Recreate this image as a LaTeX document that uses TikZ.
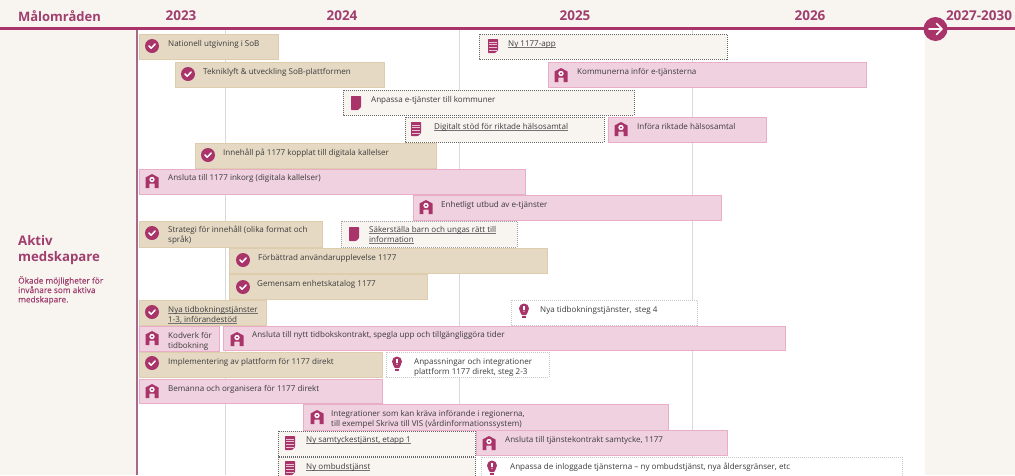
\documentclass[tikz,border=0pt]{standalone}
\usepackage{fontspec}
\setmainfont{Open Sans}
\newfontfamily\semifont[FakeBold=0.3]{Open Sans}
\definecolor{cream}{HTML}{F8F5F1}
\definecolor{maroon}{HTML}{A8346A}
\definecolor{headtxt}{HTML}{A03F6E}
\definecolor{tanfill}{HTML}{E5D9C3}
\definecolor{tanedge}{HTML}{DECDAC}
\definecolor{pinkfill}{HTML}{F0D1DF}
\definecolor{pinkedge}{HTML}{E9ADC8}
\definecolor{bodytxt}{HTML}{3C3C3C}
\definecolor{gridc}{HTML}{D9D9D9}
\definecolor{axisc}{HTML}{A7688A}
\newcommand{\ulin}[1]{\setbox0\hbox{#1}\rlap{\color{black!55}\rule[-1.2pt]{\wd0}{0.45pt}}\box0}
\tikzset{
  tanbar/.style={fill=tanfill,draw=tanedge,line width=1pt},
  pinkbar/.style={fill=pinkfill,draw=pinkedge,line width=1pt},
  plannedbar/.style={fill=cream,draw=black!60,line width=0.9pt,dash pattern=on 1pt off 1pt},
  ideabar/.style={fill=white,draw=black!22,line width=0.9pt,dash pattern=on 1pt off 1pt},
  softbar/.style={fill=cream,draw=black!38,line width=0.9pt,dash pattern=on 1pt off 1pt},
  bartext/.style={anchor=north west,inner sep=0pt,align=left,text=bodytxt,yshift=-0.5pt,font=\fontsize{8.05}{10.4}\selectfont},
  yearlabel/.style={font=\fontsize{13.5}{15}\selectfont\bfseries,text=headtxt,inner sep=0pt},
  chk/.pic={\fill[maroon] (0,0) circle (7pt);
    \draw[white,line width=1.5pt,line cap=round,line join=round] (-3,0) -- (-0.8,2.2) -- (3.2,-2);},
  bld/.pic={\fill[maroon] (-6.5,7) -- (-6.5,-3.5) -- (0,-7) -- (6.5,-3.5) -- (6.5,7) -- (2.6,7) -- (2.6,2.5) -- (-2.6,2.5) -- (-2.6,7) -- cycle;
    \fill[white] (0,-1.5) circle (2.7pt); \fill[maroon] (0,-1.5) circle (1.1pt);},
  sheet/.pic={\fill[maroon,rounded corners=0.6pt] (-5,-7) -- (5,-7) -- (5,4) -- (2,7) -- (-5,7) -- cycle;},
  sheetlines/.pic={\fill[maroon,rounded corners=0.6pt] (-5,-7) -- (5,-7) -- (5,4) -- (2,7) -- (-5,7) -- cycle;
    \foreach \yy in {-4.2,-1.4,1.4,4.2}{\draw[white!70!maroon,line width=0.45pt] (-4,\yy) -- (4,\yy);}},
  bulb/.pic={\fill[maroon] (-5,-2.5) arc[start angle=180,end angle=0,radius=5pt] .. controls (5,1) and (2.4,2) .. (2.2,4) -- (-2.2,4) .. controls (-2.4,2) and (-5,1) .. (-5,-2.5) -- cycle;
    \fill[maroon] (-1.8,5) rectangle (1.8,7);
    \draw[white,line width=1.1pt] (0,-5) -- (0,-1.5); \fill[white] (0,0.2) circle (0.7pt);}
}
\newcommand{\taskbar}[9]{%
  \draw[#2] #3 rectangle #4;
  \pic at #5 {#6};
  \node[bartext] (#1) at #7 {\strut #8};
}
\begin{document}
\begin{tikzpicture}[x=1pt,y=-1pt]
\useasboundingbox (0,0) rectangle (1015,475);
\clip (0,0) rectangle (1015,475);
\fill[white] (0,0) rectangle (1015,475);
\fill[cream] (0,0) rectangle (1015,28);
\fill[cream] (0,28) rectangle (137,475);
\fill[cream] (925,28) rectangle (1015,475);
% grid
\foreach \gx in {225,459,692}{\draw[gridc,line width=1pt] (\gx,30) -- (\gx,475);}
\fill[axisc] (136.4,28) rectangle (138.1,475);
% header
\draw[maroon,line width=2.8pt] (0,28.5) -- (1015,28.5);
\node[font=\fontsize{13}{15}\selectfont\bfseries,text=headtxt,inner sep=0pt] (goal) at (59.5,16) {Målområden};
\node[yearlabel] (y23) at (181,16) {2023};
\node[yearlabel] (y24) at (342,16) {2024};
\node[yearlabel] (y25) at (575,16) {2025};
\node[yearlabel] (y26) at (810,16) {2026};
\node[yearlabel] (y27) at (979,16) {2027-2030};
\fill[maroon] (935.5,29) circle (12pt);
\draw[white,line width=1.7pt,line cap=round,line join=round] (929,29) -- (942,29) (936.5,23.5) -- (942,29) -- (936.5,34.5);
% left label
\node[anchor=north west,inner sep=0pt,align=left,text=headtxt,font=\fontsize{13.2}{16}\selectfont\bfseries] (area) at (18,235) {Aktiv\\medskapare};
\node[anchor=north west,inner sep=0pt,align=left,text=headtxt,font=\fontsize{8.3}{9.4}\selectfont\semifont] (areadesc) at (18,276) {Ökade möjligheter för\\invånare som aktiva\\medskapare.};
% bars
\taskbar{a1}{tanbar}{(139,34)}{(278,59)}{(152,46)}{chk}{(168,38.3)}{Nationell utgivning i SoB}{}
\taskbar{a2}{plannedbar}{(479,34)}{(727,59)}{(493,46)}{sheetlines}{(508,38.3)}{\ulin{Ny 1177-app}}{}
\taskbar{a3}{tanbar}{(175,62)}{(384,87)}{(188,74)}{chk}{(203,66.3)}{Tekniklyft \& utveckling SoB-plattformen}{}
\taskbar{a4}{pinkbar}{(548,62)}{(866,87)}{(561,75)}{bld}{(577,66.3)}{Kommunerna inför e-tjänsterna}{}
\taskbar{a5}{plannedbar}{(343,90)}{(634,115)}{(356,103)}{sheet}{(371,94.3)}{Anpassa e-tjänster till kommuner}{}
\taskbar{a6}{plannedbar}{(405,117)}{(604,142)}{(416,129)}{sheetlines}{(434,121.3)}{\ulin{Digitalt stöd för riktade hälsosamtal}}{}
\taskbar{a7}{pinkbar}{(608,117)}{(766,142)}{(621,129)}{bld}{(637,121.3)}{Införa riktade hälsosamtal}{}
\taskbar{a8}{tanbar}{(195,143)}{(436,168)}{(208,155)}{chk}{(223,147.3)}{Innehåll på 1177 kopplat till digitala kallelser}{}
\taskbar{a9}{pinkbar}{(139,169)}{(525,194)}{(152,181)}{bld}{(168,172.3)}{Ansluta till 1177 inkorg (digitala kallelser)}{}
\taskbar{a10}{pinkbar}{(413,195)}{(721,220)}{(426,207)}{bld}{(441,199.3)}{Enhetligt utbud av e-tjänster}{}
\taskbar{a11}{tanbar}{(139,221)}{(322,247)}{(152,233)}{chk}{(168,224.3)}{Strategi för innehåll (olika format och\\språk)}{}
\taskbar{a12}{softbar}{(341,221)}{(517,247)}{(354,234)}{sheet}{(369,224.3)}{\ulin{Säkerställa barn och ungas rätt till}\\\ulin{information}}{}
\taskbar{a13}{tanbar}{(229,248)}{(547,273)}{(243,260)}{chk}{(258,252.3)}{Förbättrad användarupplevelse 1177}{}
\taskbar{a14}{tanbar}{(229,274)}{(427,299)}{(243,287)}{chk}{(257,278.3)}{Gemensam enhetskatalog 1177}{}
\taskbar{a15}{tanbar}{(139,300)}{(266,325)}{(152,312)}{chk}{(168,304.3)}{\ulin{Nya tidbokningstjänster}\\\ulin{1-3, införandestöd}}{}
\taskbar{a16}{ideabar}{(511,300)}{(697,325)}{(524,311)}{bulb}{(540,304.3)}{Nya tidbokningstjänster,\, steg 4}{}
\taskbar{a17}{pinkbar}{(139,326)}{(219,351)}{(152,338)}{bld}{(168,330.3)}{Kodverk för\\tidbokning}{}
\taskbar{a18}{pinkbar}{(223,326)}{(785,350)}{(237,339)}{bld}{(252,329.3)}{Ansluta till nytt tidbokskontrakt, spegla upp och tillgängliggöra tider}{}
\taskbar{a19}{tanbar}{(139,352)}{(382,377)}{(152,363)}{chk}{(168,356.3)}{Implementering av plattform för 1177 direkt}{}
\taskbar{a20}{ideabar}{(386,352)}{(549,377)}{(397,364)}{bulb}{(414,356.3)}{Anpassningar och integrationer\\plattform 1177 direkt, steg 2-3}{}
\taskbar{a21}{pinkbar}{(139,379)}{(382,403)}{(152,391)}{bld}{(168,383.3)}{Bemanna och organisera för 1177 direkt}{}
\taskbar{a22}{pinkbar}{(303,404)}{(668,430)}{(317,417)}{bld}{(331,408.3)}{Integrationer som kan kräva införande i regionerna,\\till exempel Skriva till VIS (vårdinformationssystem)}{}
\taskbar{a23}{plannedbar}{(278,431)}{(475,456)}{(290,443)}{sheetlines}{(306,434.3)}{\ulin{Ny samtyckestjänst, etapp 1}}{}
\taskbar{a24}{pinkbar}{(476,430)}{(727,455)}{(489,443)}{bld}{(505,434.3)}{Ansluta till tjänstekontrakt samtycke, 1177}{}
\taskbar{a25}{plannedbar}{(278,457)}{(475,485)}{(290,468)}{sheetlines}{(306,461.3)}{\ulin{Ny ombudstjänst}}{}
\taskbar{a26}{ideabar}{(481,457)}{(902,485)}{(492,468)}{bulb}{(510,461.3)}{Anpassa de inloggade tjänsterna – ny ombudstjänst, nya åldersgränser, etc}{}
\end{tikzpicture}
\end{document}
